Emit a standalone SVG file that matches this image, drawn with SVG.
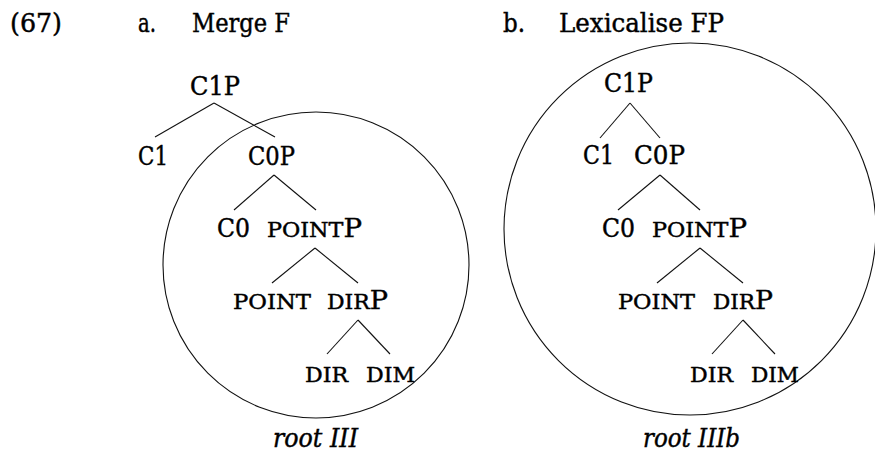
<svg xmlns="http://www.w3.org/2000/svg" width="875" height="456" viewBox="0 0 875 456">
<style>
text{font-family:"DejaVu Serif","Liberation Serif",serif;font-size:26px;fill:#000;stroke:#000;stroke-width:0.45}
.sc{font-size:21px}
.it{font-style:italic}
.edge{stroke:#111;stroke-width:1.1;fill:none}
.ring{stroke:#111;stroke-width:1.1;fill:none}
</style>
<rect width="875" height="456" fill="#fff"/>
<g id="headers">
<text x="10" y="32" textLength="52" lengthAdjust="spacingAndGlyphs">(67)</text>
<text x="138" y="32" textLength="18" lengthAdjust="spacingAndGlyphs">a.</text>
<text x="192" y="32" textLength="98" lengthAdjust="spacingAndGlyphs">Merge F</text>
<text x="503" y="32" textLength="22" lengthAdjust="spacingAndGlyphs">b.</text>
<text x="559" y="32" textLength="165" lengthAdjust="spacingAndGlyphs">Lexicalise FP</text>
</g>
<g id="circles">
<circle id="circleA" class="ring" cx="316" cy="265" r="153"/>
<circle id="circleB" class="ring" cx="690" cy="229" r="186"/>
</g>
<g id="connectors">
<line class="edge" x1="214" y1="103" x2="155" y2="137"/>
<line class="edge" x1="214" y1="103" x2="275" y2="137"/>
<line class="edge" x1="274" y1="175" x2="234" y2="210"/>
<line class="edge" x1="274" y1="175" x2="316" y2="210"/>
<line class="edge" x1="315" y1="248" x2="272" y2="283"/>
<line class="edge" x1="315" y1="248" x2="358" y2="283"/>
<line class="edge" x1="358" y1="320" x2="327" y2="354"/>
<line class="edge" x1="358" y1="320" x2="390" y2="354"/>
<line class="edge" x1="630" y1="103" x2="600" y2="138"/>
<line class="edge" x1="630" y1="103" x2="660" y2="138"/>
<line class="edge" x1="660" y1="175" x2="618" y2="210"/>
<line class="edge" x1="660" y1="175" x2="700" y2="210"/>
<line class="edge" x1="700" y1="248" x2="657" y2="283"/>
<line class="edge" x1="700" y1="248" x2="743" y2="283"/>
<line class="edge" x1="743" y1="320" x2="712" y2="354"/>
<line class="edge" x1="743" y1="320" x2="775" y2="354"/>
</g>
<g id="treeA">
<g id="a-C1P"><text x="190" y="95" textLength="50" lengthAdjust="spacingAndGlyphs">C1P</text></g>
<g id="a-C1"><text x="138" y="165" textLength="30" lengthAdjust="spacingAndGlyphs">C1</text></g>
<g id="a-C0P"><text x="248" y="165" textLength="47" lengthAdjust="spacingAndGlyphs">C0P</text></g>
<g id="a-C0"><text x="217" y="237" textLength="33" lengthAdjust="spacingAndGlyphs">C0</text></g>
<g id="a-POINTP"><text x="267" y="237" textLength="95" lengthAdjust="spacingAndGlyphs"><tspan class="sc">POINT</tspan>P</text></g>
<g id="a-POINT"><text class="sc" x="233" y="309" textLength="78" lengthAdjust="spacingAndGlyphs">POINT</text></g>
<g id="a-DIRP"><text x="327" y="309" textLength="61" lengthAdjust="spacingAndGlyphs"><tspan class="sc">DIR</tspan>P</text></g>
<g id="a-DIR"><text class="sc" x="305" y="382" textLength="43" lengthAdjust="spacingAndGlyphs">DIR</text></g>
<g id="a-DIM"><text class="sc" x="366" y="382" textLength="49" lengthAdjust="spacingAndGlyphs">DIM</text></g>
<g id="a-label"><text class="it" x="273" y="447" textLength="85" lengthAdjust="spacingAndGlyphs">root III</text></g>
</g>
<g id="treeB">
<g id="b-C1P"><text x="604" y="92" textLength="49" lengthAdjust="spacingAndGlyphs">C1P</text></g>
<g id="b-C1"><text x="583" y="164" textLength="31" lengthAdjust="spacingAndGlyphs">C1</text></g>
<g id="b-C0P"><text x="634" y="164" textLength="51" lengthAdjust="spacingAndGlyphs">C0P</text></g>
<g id="b-C0"><text x="602" y="237" textLength="33" lengthAdjust="spacingAndGlyphs">C0</text></g>
<g id="b-POINTP"><text x="652" y="237" textLength="95" lengthAdjust="spacingAndGlyphs"><tspan class="sc">POINT</tspan>P</text></g>
<g id="b-POINT"><text class="sc" x="618" y="309" textLength="77" lengthAdjust="spacingAndGlyphs">POINT</text></g>
<g id="b-DIRP"><text x="713" y="309" textLength="60" lengthAdjust="spacingAndGlyphs"><tspan class="sc">DIR</tspan>P</text></g>
<g id="b-DIR"><text class="sc" x="690" y="382" textLength="43" lengthAdjust="spacingAndGlyphs">DIR</text></g>
<g id="b-DIM"><text class="sc" x="751" y="382" textLength="48" lengthAdjust="spacingAndGlyphs">DIM</text></g>
<g id="b-label"><text class="it" x="643" y="447" textLength="97" lengthAdjust="spacingAndGlyphs">root IIIb</text></g>
</g>
</svg>
